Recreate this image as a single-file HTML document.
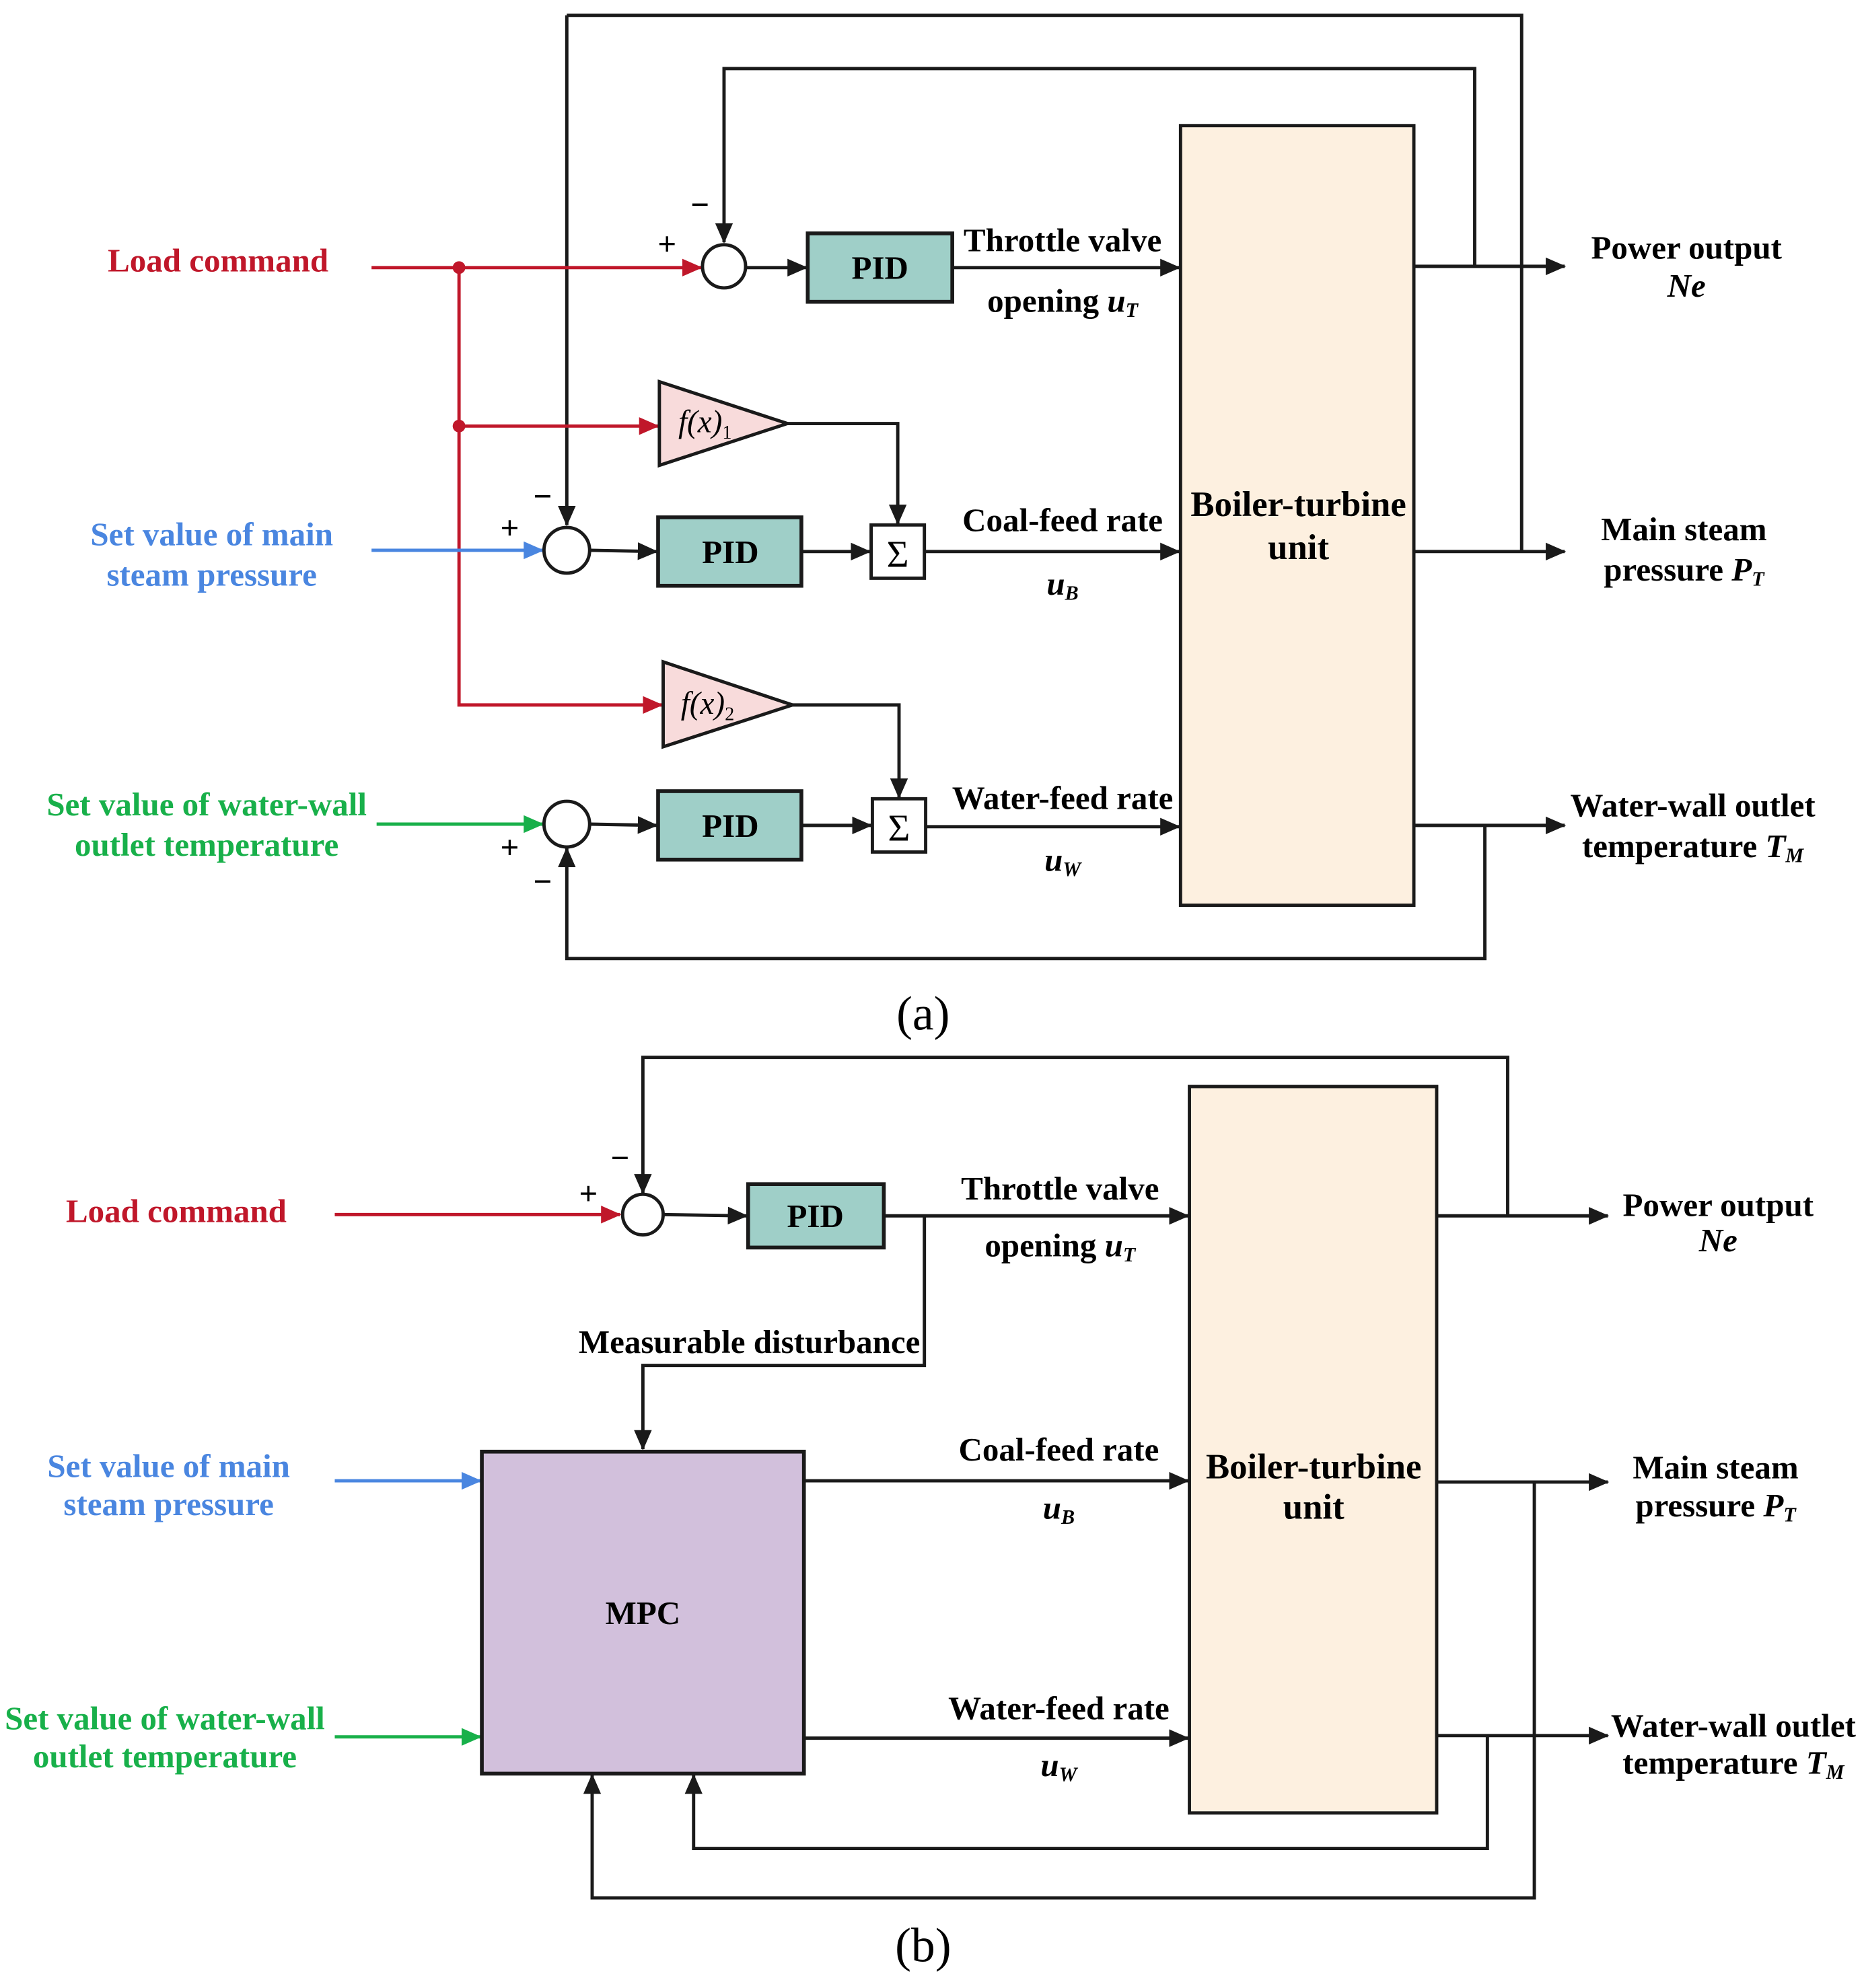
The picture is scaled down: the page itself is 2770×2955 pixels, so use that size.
<!DOCTYPE html>
<html><head><meta charset="utf-8"><style>
html,body{margin:0;padding:0;background:#fff;}
svg{display:block;}
text{font-family:"Liberation Serif",serif;font-weight:bold;font-size:26px;text-anchor:middle;}
.r{fill:#c0172a}.b{fill:#4a86e0}.g{fill:#18b04a}
.it{font-style:italic}
</style></head><body>
<svg width="2770" height="2955" viewBox="0 0 1470 1568" xmlns="http://www.w3.org/2000/svg">
<defs>
<marker id="ak" markerWidth="16" markerHeight="14" refX="15" refY="7" orient="auto" markerUnits="userSpaceOnUse" viewBox="0 0 16 14"><path d="M0,0 L16,7 L0,14z" fill="#1a1a1a"/></marker>
<marker id="ar" markerWidth="16" markerHeight="14" refX="15" refY="7" orient="auto" markerUnits="userSpaceOnUse" viewBox="0 0 16 14"><path d="M0,0 L16,7 L0,14z" fill="#c0172a"/></marker>
<marker id="ab" markerWidth="16" markerHeight="14" refX="15" refY="7" orient="auto" markerUnits="userSpaceOnUse" viewBox="0 0 16 14"><path d="M0,0 L16,7 L0,14z" fill="#4a86e0"/></marker>
<marker id="ag" markerWidth="16" markerHeight="14" refX="15" refY="7" orient="auto" markerUnits="userSpaceOnUse" viewBox="0 0 16 14"><path d="M0,0 L16,7 L0,14z" fill="#18b04a"/></marker>
</defs>
<g fill="none" stroke-width="2.6">
<g stroke="#1a1a1a">
<polyline points="447,12 1200,12 1200,435"/>
<polyline points="447,12 447,414" marker-end="url(#ak)"/>
<polyline points="1163,210 1163,54 571,54 571,191" marker-end="url(#ak)"/>
<line x1="589" y1="211" x2="636" y2="211" marker-end="url(#ak)"/>
<line x1="751" y1="211" x2="930" y2="211" marker-end="url(#ak)"/>
<line x1="1115" y1="210" x2="1234" y2="210" marker-end="url(#ak)"/>
<line x1="1115" y1="435" x2="1234" y2="435" marker-end="url(#ak)"/>
<line x1="1115" y1="651" x2="1234" y2="651" marker-end="url(#ak)"/>
<polyline points="621,334 708,334 708,413" marker-end="url(#ak)"/>
<line x1="465" y1="434" x2="518" y2="435" marker-end="url(#ak)"/>
<line x1="632" y1="435" x2="686" y2="435" marker-end="url(#ak)"/>
<line x1="729" y1="435" x2="930" y2="435" marker-end="url(#ak)"/>
<polyline points="625,556 709,556 709,629" marker-end="url(#ak)"/>
<line x1="465" y1="650" x2="518" y2="651" marker-end="url(#ak)"/>
<line x1="632" y1="651" x2="687" y2="651" marker-end="url(#ak)"/>
<line x1="730" y1="652" x2="930" y2="652" marker-end="url(#ak)"/>
<polyline points="1171,651 1171,756 447,756 447,669" marker-end="url(#ak)"/>
</g>
<g stroke="#c0172a">
<line x1="293" y1="211" x2="553" y2="211" marker-end="url(#ar)"/>
<polyline points="362,211 362,556 522,556" marker-end="url(#ar)"/>
<line x1="362" y1="336" x2="519" y2="336" marker-end="url(#ar)"/>
</g>
<line stroke="#4a86e0" x1="293" y1="434" x2="428" y2="434" marker-end="url(#ab)"/>
<line stroke="#18b04a" x1="297" y1="650" x2="428" y2="650" marker-end="url(#ag)"/>
</g>
<circle cx="362" cy="211" r="5" fill="#c0172a"/>
<circle cx="362" cy="336" r="5" fill="#c0172a"/>
<g stroke="#1a1a1a" stroke-width="2.6">
<circle cx="571" cy="210" r="17" fill="#fff"/>
<circle cx="447" cy="434" r="18" fill="#fff"/>
<circle cx="447" cy="650" r="18" fill="#fff"/>
<rect x="637" y="184" width="114" height="54" fill="#9fcfc8" stroke-width="3"/>
<rect x="519" y="408" width="113" height="54" fill="#9fcfc8" stroke-width="3"/>
<rect x="519" y="624" width="113" height="54" fill="#9fcfc8" stroke-width="3"/>
<rect x="687" y="414" width="42" height="42" fill="#fff"/>
<rect x="688" y="630" width="42" height="42" fill="#fff"/>
<polygon points="520,301 520,367 621,334" fill="#f8dbdb"/>
<polygon points="523,522 523,589 625,556" fill="#f8dbdb"/>
<rect x="931" y="99" width="184" height="615" fill="#fdf0e0"/>
</g>
<text x="694" y="220">PID</text>
<text x="576" y="444">PID</text>
<text x="576" y="660">PID</text>
<text x="708" y="447" style="font-weight:normal;font-size:30px">Σ</text>
<text x="709" y="663" style="font-weight:normal;font-size:30px">Σ</text>
<text x="556" y="341" class="it" style="font-weight:normal;font-size:25px">f(x)<tspan font-size="15" font-style="normal" dy="5">1</tspan></text>
<text x="558" y="563" class="it" style="font-weight:normal;font-size:25px">f(x)<tspan font-size="15" font-style="normal" dy="5">2</tspan></text>
<text x="172" y="214" class="r">Load command</text>
<text x="167" y="430" class="b">Set value of main</text>
<text x="167" y="462" class="b">steam pressure</text>
<text x="163" y="643" class="g">Set value of water-wall</text>
<text x="163" y="675" class="g">outlet temperature</text>
<text x="838" y="198">Throttle valve</text>
<text x="838" y="246">opening <tspan class="it">u<tspan font-size="16" dy="4">T</tspan></tspan></text>
<text x="838" y="419">Coal-feed rate</text>
<text x="838" y="469" class="it">u<tspan font-size="16" dy="4">B</tspan></text>
<text x="838" y="638">Water-feed rate</text>
<text x="838" y="687" class="it">u<tspan font-size="16" dy="4">W</tspan></text>
<text x="1024" y="407" style="font-size:28px">Boiler-turbine</text>
<text x="1024" y="441" style="font-size:28px">unit</text>
<text x="1330" y="204">Power output</text>
<text x="1330" y="234" class="it">Ne</text>
<text x="1328" y="426">Main steam</text>
<text x="1328" y="458">pressure <tspan class="it">P<tspan font-size="16" dy="4">T</tspan></tspan></text>
<text x="1335" y="644">Water-wall outlet</text>
<text x="1335" y="676">temperature <tspan class="it">T<tspan font-size="16" dy="4">M</tspan></tspan></text>
<g style="font-weight:normal;font-size:24px">
<text x="526" y="201" font-weight="normal">+</text>
<text x="552" y="170" font-weight="normal">−</text>
<text x="428" y="400" font-weight="normal">−</text>
<text x="402" y="425" font-weight="normal">+</text>
<text x="402" y="677" font-weight="normal">+</text>
<text x="428" y="704" font-weight="normal">−</text>
<text x="464" y="950" font-weight="normal">+</text>
<text x="489" y="922" font-weight="normal">−</text>
</g>
<text x="728" y="812" style="font-weight:normal;font-size:38px">(a)</text>

<g fill="none" stroke-width="2.6" stroke="#1a1a1a">
<polyline points="1189,959 1189,834 507,834 507,941" marker-end="url(#ak)"/>
<line x1="523" y1="958" x2="589" y2="959" marker-end="url(#ak)"/>
<line x1="697" y1="959" x2="937" y2="959" marker-end="url(#ak)"/>
<polyline points="729,959 729,1077 507,1077 507,1143" marker-end="url(#ak)"/>
<line x1="1133" y1="959" x2="1268" y2="959" marker-end="url(#ak)"/>
<line x1="1133" y1="1169" x2="1268" y2="1169" marker-end="url(#ak)"/>
<line x1="1133" y1="1369" x2="1268" y2="1369" marker-end="url(#ak)"/>
<line x1="634" y1="1168" x2="937" y2="1168" marker-end="url(#ak)"/>
<line x1="634" y1="1371" x2="937" y2="1371" marker-end="url(#ak)"/>
<polyline points="1173,1369 1173,1458 547,1458 547,1400" marker-end="url(#ak)"/>
<polyline points="1210,1169 1210,1497 467,1497 467,1400" marker-end="url(#ak)"/>
<line stroke="#c0172a" x1="264" y1="958" x2="489" y2="958" marker-end="url(#ar)"/>
<line stroke="#4a86e0" x1="264" y1="1168" x2="379" y2="1168" marker-end="url(#ab)"/>
<line stroke="#18b04a" x1="264" y1="1370" x2="379" y2="1370" marker-end="url(#ag)"/>
</g>
<g stroke="#1a1a1a" stroke-width="2.6">
<circle cx="507" cy="958" r="16" fill="#fff"/>
<rect x="590" y="934" width="107" height="50" fill="#9fcfc8" stroke-width="3"/>
<rect x="938" y="857" width="195" height="573" fill="#fdf0e0"/>
<rect x="380" y="1145" width="254" height="254" fill="#d2c0dc" stroke-width="3"/>
</g>
<text x="643" y="968">PID</text>
<text x="507" y="1281">MPC</text>
<text x="139" y="964" class="r">Load command</text>
<text x="133" y="1165" class="b">Set value of main</text>
<text x="133" y="1195" class="b">steam pressure</text>
<text x="130" y="1364" class="g">Set value of water-wall</text>
<text x="130" y="1394" class="g">outlet temperature</text>
<text x="591" y="1067">Measurable disturbance</text>
<text x="836" y="946">Throttle valve</text>
<text x="836" y="991">opening <tspan class="it">u<tspan font-size="16" dy="4">T</tspan></tspan></text>
<text x="835" y="1152">Coal-feed rate</text>
<text x="835" y="1198" class="it">u<tspan font-size="16" dy="4">B</tspan></text>
<text x="835" y="1356">Water-feed rate</text>
<text x="835" y="1401" class="it">u<tspan font-size="16" dy="4">W</tspan></text>
<text x="1036" y="1166" style="font-size:28px">Boiler-turbine</text>
<text x="1036" y="1198" style="font-size:28px">unit</text>
<text x="1355" y="959">Power output</text>
<text x="1355" y="987" class="it">Ne</text>
<text x="1353" y="1166">Main steam</text>
<text x="1353" y="1196">pressure <tspan class="it">P<tspan font-size="16" dy="4">T</tspan></tspan></text>
<text x="1367" y="1370">Water-wall outlet</text>
<text x="1367" y="1399">temperature <tspan class="it">T<tspan font-size="16" dy="4">M</tspan></tspan></text>
<text x="728" y="1547" style="font-weight:normal;font-size:38px">(b)</text>
</svg>
</body></html>
